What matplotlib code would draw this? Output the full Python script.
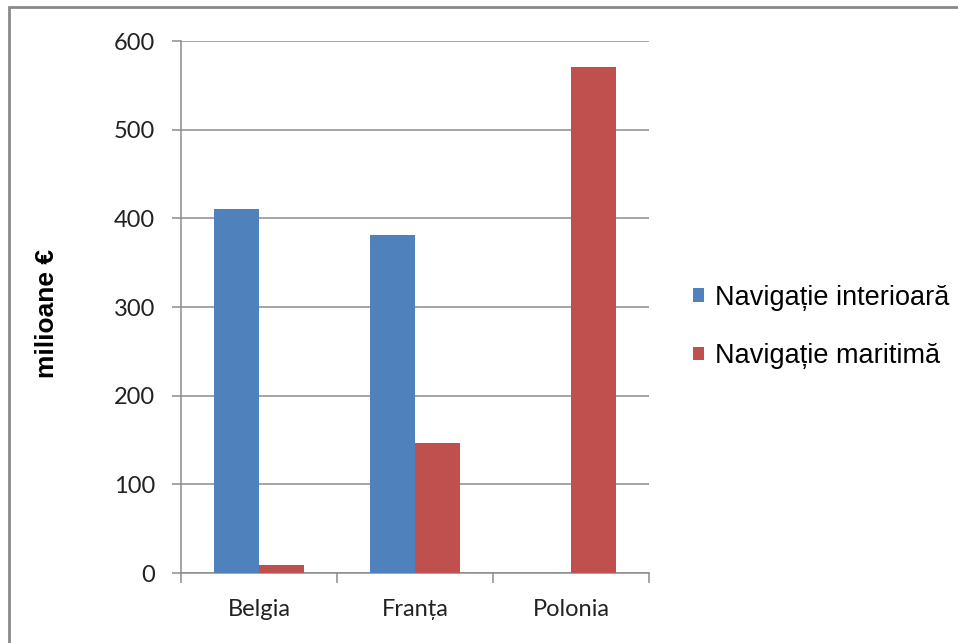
import matplotlib.pyplot as plt
import numpy as np
from matplotlib.patches import Rectangle

# data
countries = ['Belgia', 'Franța', 'Polonia']
interior = [410, 381, 0]
maritime = [9, 147, 571]
series_names = ['Navigație interioară', 'Navigație maritimă']
yticks = [0, 100, 200, 300, 400, 500, 600]

blue = '#4F81BD'
red = '#C0504D'
grid_col = '#8C8C8C'

fig = plt.figure(figsize=(9.58, 6.43), dpi=100)
fig.patch.set_facecolor('white')
ax = fig.add_axes([181/958, 1 - 573/643, 468/958, 532/643])

x = np.arange(len(countries))
w = 1 / 3.5
ax.bar(x - w/2, interior, width=w, color=blue, label=series_names[0], zorder=3)
ax.bar(x + w/2, maritime, width=w, color=red, label=series_names[1], zorder=3)

ax.set_xlim(-0.5, len(countries) - 0.5)
ax.set_ylim(0, 600)
ax.set_yticks(yticks)
ax.yaxis.grid(True, color=grid_col, linewidth=1.1, zorder=0)
ax.set_axisbelow(True)

for s in ['top', 'right']:
    ax.spines[s].set_visible(False)
for s in ['left', 'bottom']:
    ax.spines[s].set_color(grid_col)
    ax.spines[s].set_linewidth(1.1)

# category labels at centres, tick marks at the boundaries
ax.set_xticks(x)
ax.set_xticklabels(countries)
ax.set_xticks(np.arange(-0.5, len(countries)), minor=True)
ax.tick_params(axis='x', which='major', length=0, pad=19)
ax.tick_params(axis='x', which='minor', length=7.5, width=1.1, color=grid_col)
ax.tick_params(axis='y', which='major', length=6.5, width=1.1, color=grid_col, pad=12)

for lab in ax.get_xticklabels() + ax.get_yticklabels():
    lab.set_fontfamily('Lato')
    lab.set_fontsize(17)
    lab.set_color('#222222')

fig.text(47/958, 1 - 314/643, 'milioane €', rotation=90, ha='center', va='center',
         fontsize=19, fontweight='bold', family='Liberation Sans')

leg = fig.legend(loc='center left', bbox_to_anchor=(693/958, 1 - 327/643),
                 frameon=False, prop={'family': 'Liberation Sans', 'size': 19.5},
                 handlelength=0.4, handleheight=0.4, handletextpad=0.4,
                 labelspacing=1.2, borderpad=0, borderaxespad=0)

# outer chart border (only left and top visible in the crop)
fig.patches.append(Rectangle((9/958, -0.05), 1.1, 1 - 7/643 + 0.05,
                             transform=fig.transFigure, fill=False,
                             edgecolor='#8A8A8A', linewidth=2))

fig.savefig('out.png', dpi=100)
